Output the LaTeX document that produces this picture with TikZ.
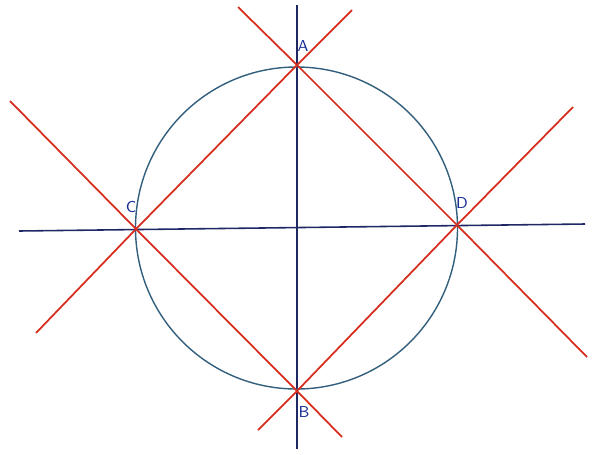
\documentclass[tikz,border=0pt]{standalone}
\usetikzlibrary{positioning}
\definecolor{axisblue}{RGB}{30,40,100}
\definecolor{circblue}{RGB}{50,95,125}
\definecolor{penred}{RGB}{215,45,30}
\definecolor{inkblue}{RGB}{25,45,150}
\begin{document}
\begin{tikzpicture}[x=0.02cm, y=-0.02cm,
    axis/.style={axisblue, line width=0.9pt},
    circ/.style={circblue, line width=0.8pt},
    chord/.style={penred, line width=1pt},
    lbl/.style={inkblue, font=\sffamily\small}]
    \useasboundingbox (0,0) rectangle (592,454);
    % points of the square on the circle
    \coordinate (O) at (296.5,228);
    \coordinate (A) at (297,65);
    \coordinate (B) at (297,391);
    \coordinate (C) at (136,229);
    \coordinate (D) at (457,225);
    % ends of the lines
    \coordinate (xl) at (19,231);
    \coordinate (xr) at (585,224);
    \coordinate (yt) at (297,5);
    \coordinate (yb) at (297,449);
    \coordinate (e1) at (10,101);
    \coordinate (e2) at (342,437);
    \coordinate (e3) at (36,333);
    \coordinate (e4) at (352,10);
    \coordinate (e5) at (238,7);
    \coordinate (e6) at (587,357);
    \coordinate (e7) at (258,430);
    \coordinate (e8) at (573,107);
    % axes and circle
    \draw[axis] (xl) -- (xr);
    \draw[axis] (yt) -- (yb);
    \draw[circ] (O) circle (161);
    % red lines through the corners
    \draw[chord] (e1) -- (C) -- (B) -- (e2);
    \draw[chord] (e3) -- (C) -- (A) -- (e4);
    \draw[chord] (e5) -- (A) -- (D) -- (e6);
    \draw[chord] (e7) -- (B) -- (D) -- (e8);
    % labels
    \node[lbl] (lA) at (303,46) {A};
    \node[lbl] (lB) at (304,412) {B};
    \node[lbl] (lC) at (131,207) {C};
    \node[lbl] (lD) at (462,203) {D};
\end{tikzpicture}
\end{document}
